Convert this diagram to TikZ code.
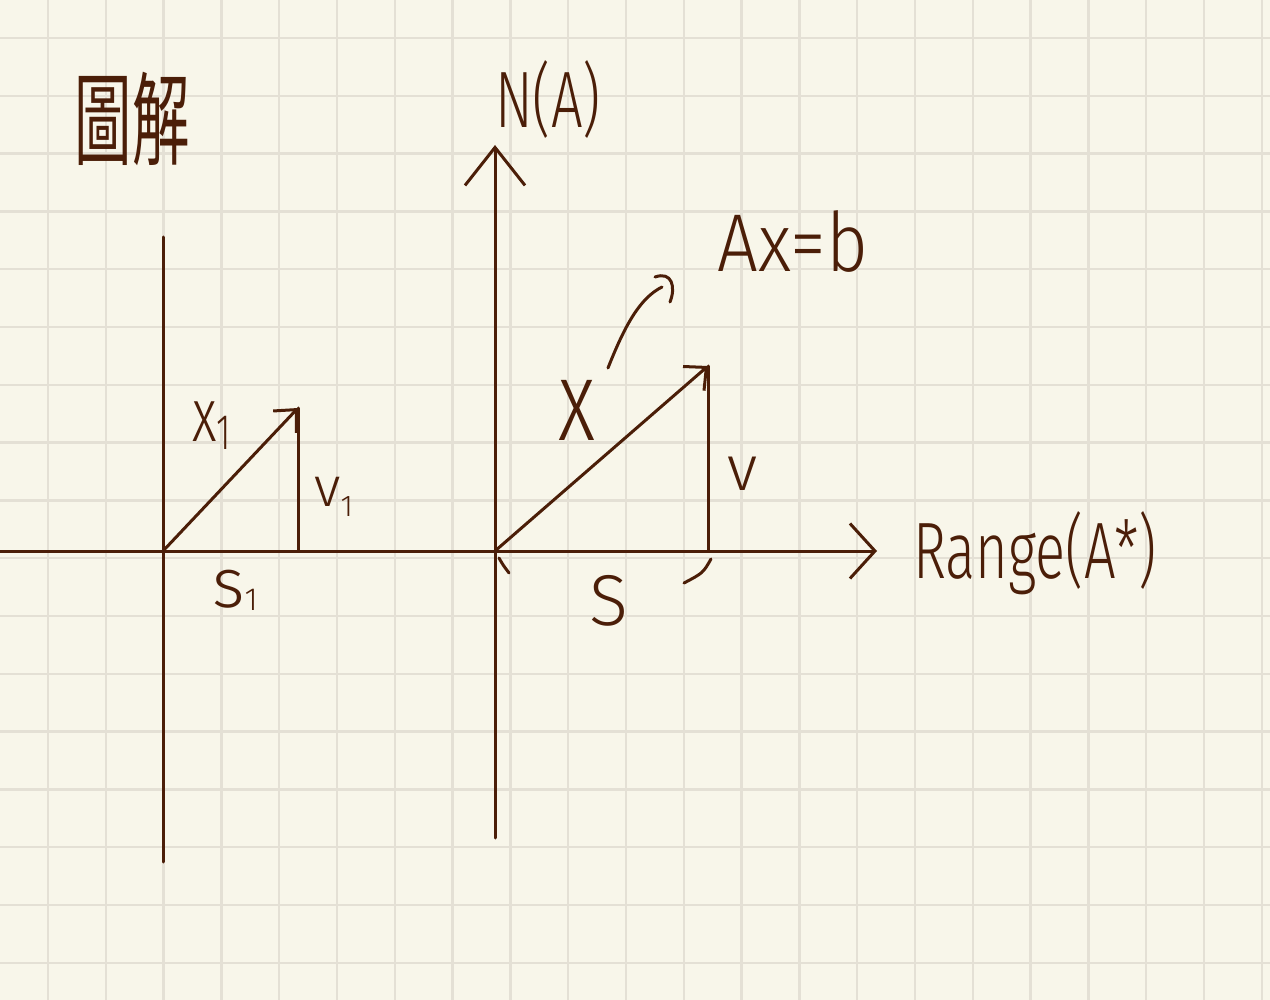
\documentclass[tikz,border=0pt]{standalone}
\usepackage{fontspec}
\newfontfamily\hand{Fira Sans}[UprightFont=* Light, FakeStretch=0.7]
\newfontfamily\handw{Fira Sans}[UprightFont=* Light]
\newfontfamily\cjk{Noto Sans CJK TC}
\definecolor{ink}{RGB}{75,30,8}
\definecolor{paper}{RGB}{248,246,234}
\definecolor{gridc}{RGB}{228,224,213}
\usetikzlibrary{arrows.meta}

\begin{document}
\begin{tikzpicture}[x=1pt, y=-1pt,
  gridline/.style={draw=gridc, line width=2.5pt},
  pen/.style={draw=ink, line width=3pt, line cap=round},
  axistip/.style={-{Straight Barb[length=25pt, width=55pt]}},
  uptip/.style={-{Straight Barb[length=38pt, width=60pt]}},
  vectip/.style={-{Straight Barb[length=17pt, width=32pt]}},
  lbl/.style={text=ink, inner sep=0pt, anchor=base west}
]
% paper and grid
\fill[paper] (0,0) rectangle (1270,1000);
\useasboundingbox (0,0) rectangle (1270,1000);
\foreach \i in {0,...,21}
  \draw[gridline] ({48+57.8*\i},0) -- ({48+57.8*\i},1000);
\foreach \j in {0,...,16}
  \draw[gridline] (0,{38+57.8*\j}) -- (1270,{38+57.8*\j});

% key points
\coordinate (west)  at (0,551);
\coordinate (east)  at (877,551);
\coordinate (o1)    at (163,551);
\coordinate (o2)    at (495,551);
\coordinate (top1)  at (163,237);
\coordinate (bot1)  at (163,862);
\coordinate (top2)  at (495,145);
\coordinate (bot2)  at (495,838);
\coordinate (tip1)  at (298,408);
\coordinate (foot1) at (298,551);
\coordinate (tip2)  at (708,366);
\coordinate (foot2) at (708,551);

% axes
\draw[pen, axistip] (west) -- (east);
\draw[pen] (top1) -- (bot1);
\draw[pen, uptip] (bot2) -- (top2);

% vectors and their vertical parts
\draw[pen, vectip] (o1) -- (tip1);
\draw[pen] (tip1) -- (foot1);
\draw[pen, vectip] (o2) -- (tip2);
\draw[pen] (tip2) -- (foot2);

% labels
\node[lbl, anchor=center] (title) at (132,119)
  {\scalebox{0.82}[1.45]{\fontsize{70}{70}\cjk 圖解}};
\node[lbl, anchor=base] (na) at (548,128) {\hand\fontsize{80}{80}\selectfont N(A)};
\node[lbl, anchor=base] (eq) at (793,272)
  {\scalebox{0.88}[1]{\handw\fontsize{82}{82}\selectfont Ax=b}};
\node[lbl] (rng) at (913,578) {\hand\fontsize{80}{80}\selectfont Range(A*)};
\node[lbl] (x1) at (192,442)
  {\hand\fontsize{76}{76}\selectfont x\raisebox{-8pt}{\fontsize{50}{50}\selectfont 1}};
\node[lbl] (v1) at (314,506)
  {\handw\fontsize{56}{56}\selectfont v\raisebox{-10pt}{\fontsize{30}{30}\selectfont 1}};
\node[lbl] (s1) at (212,607)
  {\handw\fontsize{70}{70}\selectfont s\raisebox{-3pt}{\fontsize{32}{32}\selectfont 1}};
\node[lbl] (xx) at (558,440) {\hand\fontsize{115}{115}\selectfont x};
\node[lbl] (vv) at (727,490) {\handw\fontsize{64}{64}\selectfont v};
\node[lbl] (ss) at (589,625) {\handw\fontsize{72}{72}\selectfont S};

% bracket marks under S
\coordinate (bl0) at (499,558);
\coordinate (bl1) at (509,573);
\coordinate (br0) at (711,559);
\coordinate (br1) at (684,583);
\draw[pen] (bl0) .. controls (503,565) .. (bl1);
\draw[pen] (br0) .. controls (703,573) .. (br1);

% curve from x towards Ax=b
\coordinate (c0) at (608,368);
\coordinate (c1) at (662,287);
\coordinate (h0) at (655,277);
\coordinate (h1) at (670,302);
\draw[pen] (c0) .. controls (625,325) and (640,298) .. (c1);
\draw[pen] (h0) .. controls (672,271) and (676,287) .. (h1);
\end{tikzpicture}
\end{document}
